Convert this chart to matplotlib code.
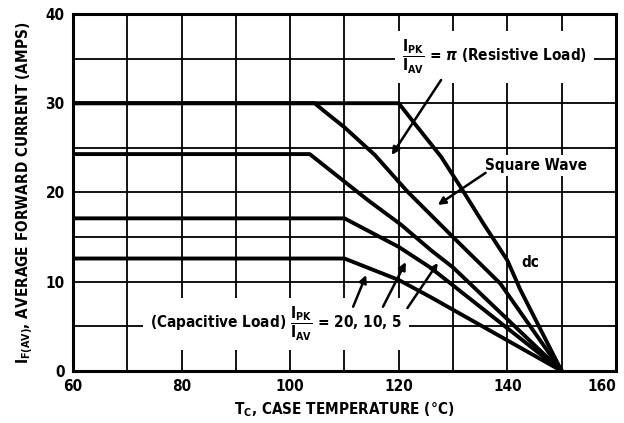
import matplotlib
matplotlib.use("Agg")
import matplotlib.pyplot as plt

plt.rcParams['font.family'] = ['DejaVu Sans']
plt.rcParams['font.weight'] = 'bold'
plt.rcParams['font.stretch'] = 'condensed'
plt.rcParams['axes.labelweight'] = 'bold'
plt.rcParams['mathtext.fontset'] = 'custom'
plt.rcParams['mathtext.rm'] = 'DejaVu Sans:weight=bold:stretch=condensed'
plt.rcParams['mathtext.it'] = 'DejaVu Sans:weight=bold:style=oblique:stretch=condensed'
plt.rcParams['mathtext.bf'] = 'DejaVu Sans:weight=bold:stretch=condensed'

# derating curves (case temp degC, current A)
dc_t = [60, 120, 122.7, 127.8, 131.4, 135.5, 140, 142.4, 150]
dc_i = [30, 30, 27.9, 24.0, 20.6, 16.6, 12.4, 9.1, 0]
a_t = [60, 104.5, 106.5, 110, 115.6, 121.6, 130, 138.7, 150]
a_i = [30, 30, 29.0, 27.3, 24.2, 20.1, 15.0, 9.8, 0]
b_t = [60, 103.6, 114.4, 120.4, 126, 130, 150]
b_i = [24.3, 24.3, 19.1, 16.4, 13.5, 11.6, 0]
c_t = [60, 110, 120, 125.8, 150]
c_i = [17.1, 17.1, 13.9, 11.6, 0]
e_t = [60, 110, 120, 125.8, 150]
e_i = [12.6, 12.6, 10.2, 8.3, 0]

xticks = [60, 80, 100, 120, 140, 160]
yticks = [0, 10, 20, 30, 40]

# arrows: (start, tip)
res_arrow = ((127.8, 32.6), (118.7, 24.2))
sq_arrow = ((136.0, 22.2), (127.2, 18.6))
cap_arrows = [((111.6, 7.2), (114.0, 10.75)),
              ((117.1, 7.2), (121.3, 12.2)),
              ((121.6, 7.05), (127.2, 12.1))]

fig = plt.figure(figsize=(6.24, 4.23), dpi=100)
ax = fig.add_axes([0.117, 0.123, 0.870, 0.844])

for t, i in [(dc_t, dc_i), (a_t, a_i), (b_t, b_i), (c_t, c_i), (e_t, e_i)]:
    ax.plot(t, i, color='black', lw=2.8, solid_joinstyle='round', zorder=4)

ax.set_xlim(60, 160)
ax.set_ylim(0, 40)
ax.set_xticks(range(60, 161, 10))
ax.set_yticks(range(0, 41, 5))
ax.set_xticklabels([str(v) if v in xticks else '' for v in range(60, 161, 10)])
ax.set_yticklabels([str(v) if v in yticks else '' for v in range(0, 41, 5)])
ax.tick_params(length=0, labelsize=11, pad=6)
ax.get_xticklabels()[-1].set_ha('right')
ax.grid(True, color='black', lw=1.3)
ax.set_axisbelow(True)
for s in ax.spines.values():
    s.set_linewidth(2.2)

ax.set_xlabel(r'T$_\mathrm{C}$, CASE TEMPERATURE (°C)', fontsize=11, fontweight='bold', labelpad=4)
ax.set_ylabel(r'I$_\mathrm{F(AV)}$, AVERAGE FORWARD CURRENT (AMPS)', fontsize=11, fontweight='bold', labelpad=7)

box = dict(facecolor='white', edgecolor='none', pad=2)
ax.text(137.7, 35.2, r'$\dfrac{\mathrm{I_{PK}}}{\mathrm{I_{AV}}}$ = $\pi$ (Resistive Load)',
        ha='center', va='center', fontsize=11, bbox=dict(facecolor='white', edgecolor='none', pad=5), zorder=3)
ax.text(145.3, 23.0, 'Square Wave', ha='center', va='center', fontsize=11, bbox=box, zorder=3)
ax.text(144.2, 12.2, 'dc', ha='center', va='center', fontsize=11, bbox=box, zorder=3)
ax.text(97.4, 5.3, r'(Capacitive Load) $\dfrac{\mathrm{I_{PK}}}{\mathrm{I_{AV}}}$ = 20, 10, 5',
        ha='center', va='center', fontsize=11, bbox=dict(facecolor='white', edgecolor='none', pad=5), zorder=3)

arrow = dict(arrowstyle='-|>', color='black', lw=1.8, mutation_scale=11, shrinkA=0, shrinkB=0)
for start, tip in [res_arrow, sq_arrow] + cap_arrows:
    ax.annotate('', xy=tip, xytext=start, arrowprops=arrow, zorder=5)

fig.savefig('out.png', dpi=100)
